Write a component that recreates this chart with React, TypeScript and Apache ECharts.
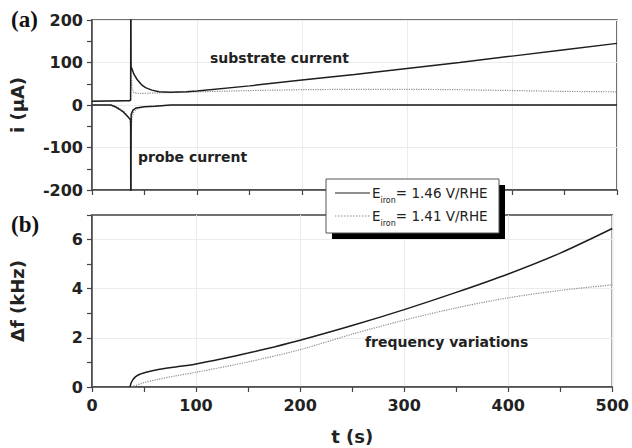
import React, { useEffect, useRef } from "react";
import * as echarts from "echarts";

// ---- data ----
// top panel (a): currents in µA vs time in s
const tSub146 = [0, 30, 35.5, 36.8, 37, 37.2, 38.5, 40, 43, 47, 51, 57, 64, 75, 90, 100, 150, 200, 250, 300, 350, 400, 450, 500];
const iSub146 = [9, 10, 10, 11, 400, 90, 82, 72, 60, 48, 41, 35, 31, 30, 31, 33, 45, 59, 72, 86, 100, 115, 130, 145];

const tProbe146 = [0, 18, 22, 26, 30, 34, 36.8, 37, 37.3, 39, 42, 50, 60, 75, 500];
const iProbe146 = [0, 0, -4, -10, -17, -27, -35, -400, -22, -12, -7, -4, -3, 0, 0];

const tSub141 = [0, 30, 35.5, 36.5, 37.2, 38, 40, 45, 55, 70, 100, 150, 200, 250, 300, 350, 400, 450, 500];
const iSub141 = [9, 10, 10, 12, 100, 40, 29, 27, 28, 29, 31, 34, 36, 37, 37, 36, 34, 32, 31];

const tProbe141 = [0, 18, 24, 29, 33, 36, 37.3, 38, 40, 44, 50, 60, 80, 500];
const iProbe141 = [0, 0, -5, -12, -22, -35, -65, -30, -15, -8, -4, -2, 0, 0];

// bottom panel (b): frequency variation in kHz vs time in s
const tF146 = [36.5, 37.5, 39, 42, 46, 55, 65, 83, 100, 125, 150, 175, 200, 250, 300, 350, 400, 450, 500];
const f146 = [0, 0.15, 0.28, 0.42, 0.52, 0.63, 0.72, 0.83, 0.94, 1.15, 1.38, 1.63, 1.9, 2.5, 3.15, 3.85, 4.6, 5.45, 6.45];

const tF141 = [38, 42, 46, 50, 60, 80, 100, 150, 200, 250, 300, 350, 400, 450, 500];
const f141 = [0, 0.06, 0.12, 0.18, 0.28, 0.45, 0.6, 1.02, 1.52, 2.15, 2.72, 3.22, 3.63, 3.93, 4.16];

const legendLabels = ["= 1.46 V/RHE", "= 1.41 V/RHE"];

const pairs = (t: number[], v: number[]) => t.map((x, i) => [x, v[i]]);

const SANS = "DejaVu Sans";
const AX = "#444";
const BLACK = "#1e1e1e";
const GRAY = "#8c8c8c";

export default function App() {
  const ref = useRef<HTMLDivElement>(null);
  useEffect(() => {
    if (!ref.current) return;
    const chart = echarts.init(ref.current, undefined, { renderer: "svg" });
    const tickLabel = { fontFamily: SANS, fontWeight: "bold" as const, fontSize: 16, color: "#222" };
    const nameStyle = { fontFamily: SANS, fontWeight: "bold" as const, fontSize: 18, color: "#222" };
    const axisLine = { show: true, onZero: false, lineStyle: { color: AX, width: 1.5 } };
    const tick = { show: true, inside: false, length: 5, lineStyle: { color: AX, width: 1.2 } };
    const minor = { show: true, splitNumber: 2, length: 5, lineStyle: { color: AX, width: 1.2 } };
    const grid = { show: true, borderColor: AX, borderWidth: 1.5, backgroundColor: "transparent" };

    const blackLine = { color: BLACK, width: 1.5 };
    const grayLine = { color: GRAY, width: 1.2, type: "dotted" as const };

    const option: any = {
      animation: false,
      grid: [
        { ...grid, left: 92, top: 20, width: 525, height: 170 },
        { ...grid, left: 92, top: 215, width: 525, height: 172 },
      ],
      xAxis: [
        {
          gridIndex: 0, type: "value", min: 0, max: 500, interval: 100,
          axisLine, axisTick: tick, minorTick: minor,
          axisLabel: { show: false },
          splitLine: { show: true, lineStyle: { color: "#ececec", width: 1 } },
        },
        {
          gridIndex: 1, type: "value", min: 0, max: 500, interval: 100,
          axisLine, axisTick: tick, minorTick: minor,
          axisLabel: { ...tickLabel, margin: 10 },
          splitLine: { show: true, lineStyle: { color: "#ececec", width: 1 } },
          name: "t (s)", nameLocation: "middle", nameGap: 40, nameTextStyle: nameStyle,
        },
      ],
      yAxis: [
        {
          gridIndex: 0, type: "value", min: -200, max: 200, interval: 100,
          axisLine, axisTick: tick, minorTick: minor,
          axisLabel: { ...tickLabel, margin: 9 },
          splitLine: { show: true, lineStyle: { color: "#ececec", width: 1 } },
          name: "i (µA)", nameLocation: "middle", nameGap: 66, nameRotate: 90, nameTextStyle: nameStyle,
        },
        {
          gridIndex: 1, type: "value", min: 0, max: 7, interval: 1,
          axisLine, axisTick: tick,
          axisLabel: { ...tickLabel, margin: 9, formatter: (v: number) => (v % 2 === 0 && v < 7 ? String(v) : "") },
          splitLine: { show: true, lineStyle: { color: ["#ececec", "rgba(0,0,0,0)"], width: 1 } },
          name: "Δf (kHz)", nameLocation: "middle", nameGap: 66, nameRotate: 90, nameTextStyle: nameStyle,
        },
      ],
      series: [
        { type: "line", name: "sub141", xAxisIndex: 0, yAxisIndex: 0, data: pairs(tSub141, iSub141), symbol: "none", lineStyle: grayLine, z: 2 },
        { type: "line", name: "probe141", xAxisIndex: 0, yAxisIndex: 0, data: pairs(tProbe141, iProbe141), symbol: "none", lineStyle: grayLine, z: 2 },
        { type: "line", name: "sub146", xAxisIndex: 0, yAxisIndex: 0, data: pairs(tSub146, iSub146), symbol: "none", lineStyle: blackLine, z: 3 },
        { type: "line", name: "probe146", xAxisIndex: 0, yAxisIndex: 0, data: pairs(tProbe146, iProbe146), symbol: "none", lineStyle: blackLine, z: 3 },
        { type: "line", name: "f141", xAxisIndex: 1, yAxisIndex: 1, data: pairs(tF141, f141), symbol: "none", smooth: 0.3, lineStyle: grayLine, z: 2 },
        { type: "line", name: "f146", xAxisIndex: 1, yAxisIndex: 1, data: pairs(tF146, f146), symbol: "none", smooth: 0.3, lineStyle: blackLine, z: 3 },
      ],
      graphic: [
        { type: "text", left: 11, top: 8, z: 50, style: { text: "(a)", font: "bold 23px 'Liberation Serif'", fill: "#111" } },
        { type: "text", left: 11, top: 213, z: 50, style: { text: "(b)", font: "bold 23px 'Liberation Serif'", fill: "#111" } },
        { type: "text", left: 210, top: 51, z: 50, style: { text: "substrate current", font: `bold 14px '${SANS}'`, fill: "#222" } },
        { type: "text", left: 138, top: 150, z: 50, style: { text: "probe current", font: `bold 14px '${SANS}'`, fill: "#222" } },
        { type: "text", left: 365, top: 335, z: 50, style: { text: "frequency variations", font: `bold 14px '${SANS}'`, fill: "#222" } },
        // legend box with drop shadow
        { type: "rect", z: 60, shape: { x: 332, y: 185, width: 173, height: 54 }, style: { fill: "#000" } },
        { type: "rect", z: 61, shape: { x: 326, y: 179, width: 173, height: 54 }, style: { fill: "#fff", stroke: "#555", lineWidth: 1 } },
        { type: "line", z: 62, shape: { x1: 335, y1: 193, x2: 370, y2: 193 }, style: { stroke: BLACK, lineWidth: 1.2 } },
        { type: "line", z: 62, shape: { x1: 335, y1: 216, x2: 370, y2: 216 }, style: { stroke: GRAY, lineWidth: 1.2, lineDash: [1.5, 1.5] } },
        ...legendLabels.map((lab, i) => ({
          type: "text", z: 62, x: 372, y: 186 + i * 23,
          style: {
            text: `{e|E}{s|iron}{t|${lab}}`,
            fill: "#222",
            rich: {
              e: { fontFamily: SANS, fontSize: 13.5, lineHeight: 13, verticalAlign: "top", fill: "#222" },
              s: { fontFamily: SANS, fontSize: 8, lineHeight: 8, padding: [10, 0, 0, 0], verticalAlign: "top", fill: "#222" },
              t: { fontFamily: SANS, fontSize: 13.5, lineHeight: 13, verticalAlign: "top", fill: "#222" },
            },
          },
        })),
      ],
    };
    chart.setOption(option);
    return () => chart.dispose();
  }, []);
  return <div ref={ref} style={{ width: 632, height: 448, position: "absolute", left: 0, top: 0 }} />;
}
